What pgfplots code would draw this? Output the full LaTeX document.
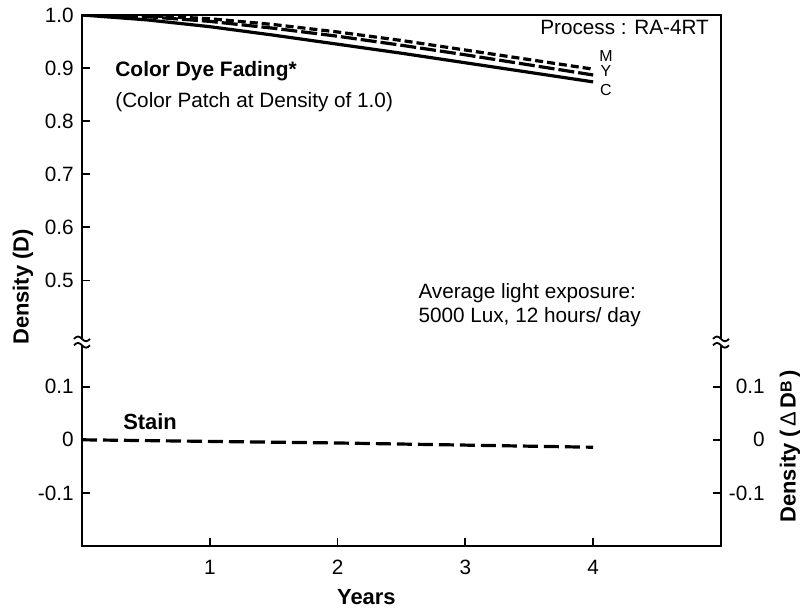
\documentclass[border=0pt]{standalone}
\usepackage{fontspec}
\setmainfont{Liberation Sans}
\usepackage{pgfplots}
\usepackage{pgfplotstable}
\pgfplotsset{compat=1.18}

\pgfplotstableread{
x d
0 1.000
0.5 0.991
1 0.978
1.5 0.962
2 0.945
2.5 0.928
3 0.910
3.5 0.892
4 0.874
}\cdata
\pgfplotstableread{
x d
0 1.000
0.5 0.997
1 0.988
1.5 0.975
2 0.960
2.5 0.943
3 0.925
3.5 0.906
4 0.887
}\ydata
\pgfplotstableread{
x d
0 1.000
0.5 0.999
1 0.993
1.5 0.982
2 0.968
2.5 0.952
3 0.934
3.5 0.916
4 0.898
}\mdata
\pgfplotstableread{
x d
0 0.000
1 -0.003
2 -0.006
3 -0.010
4 -0.014
}\staindata

\begin{document}
\begin{tikzpicture}
\pgfplotsset{
  common/.style={
    scale only axis, width=319.5bp, height=265.5bp,
    at={(41bp,31.5bp)}, anchor=south west,
    xmin=0, xmax=5, ymin=0, ymax=1,
    tick align=inside, major tick length=4bp,
    every tick/.style={black, line width=0.9bp},
    axis line style={line width=0.9bp},
    /pgf/number format/assume math mode=true,
    ticklabel style={font=\fontsize{10.4}{12}\selectfont, inner sep=0pt},
  }
}
\begin{axis}[common,
  axis lines=box,
  xtick pos=bottom, ytick pos=left,
  xtick={1,2,3,4}, xticklabels={1,2,3,4},
  xticklabel style={anchor=center, yshift=-10.5bp},
  ytick={0.1,0.2,0.3,0.5,0.6,0.7,0.8,0.9,1.0},
  yticklabels={-0.1,0,0.1,0.5,0.6,0.7,0.8,0.9,1.0},
  yticklabel style={anchor=east, xshift=-4bp},
  xlabel={Years},
  xlabel style={font=\fontsize{11}{13}\selectfont\bfseries, at={([yshift=-25.5bp]rel axis cs:0.445,0)}, anchor=center},
  ylabel={Density (D)},
  ylabel style={font=\fontsize{11}{13}\selectfont\bfseries, at={([xshift=-29.5bp]rel axis cs:0,0.488)}, anchor=center},
]
\addplot[black, line width=1.6bp] table[x=x, y=d] {\cdata};
\addplot[black, line width=1.6bp, dash pattern=on 8bp off 2bp] table[x=x, y=d] {\ydata};
\addplot[black, line width=1.6bp, dash pattern=on 4bp off 2bp] table[x=x, y=d] {\mdata};
\addplot[black, line width=1.6bp, dash pattern=on 7.5bp off 3bp] table[x=x, y expr=\thisrow{d}+0.2] {\staindata};

\node[anchor=east, font=\fontsize{10.4}{12}\selectfont] at (axis cs:4.96,0.977) {Process : RA-4RT};
\node[font=\fontsize{8}{9}\selectfont, inner sep=0pt] at (axis cs:4.10,0.922) {M};
\node[font=\fontsize{8}{9}\selectfont, inner sep=0pt] at (axis cs:4.10,0.895) {Y};
\node[font=\fontsize{8}{9}\selectfont, inner sep=0pt] at (axis cs:4.10,0.858) {C};
\node[anchor=west, inner sep=0pt, font=\fontsize{10.5}{12}\selectfont\bfseries] at (axis cs:0.258,0.895) {Color Dye Fading*};
\node[anchor=west, inner sep=0pt, font=\fontsize{10.4}{12}\selectfont] at (axis cs:0.258,0.836) {(Color Patch at Density of 1.0)};
\node[anchor=west, inner sep=0pt, align=left, font=\fontsize{10.4}{12}\selectfont] at (axis cs:2.63,0.454) {Average light exposure:\\5000 Lux, 12 hours/ day};
\node[anchor=west, inner sep=0pt, font=\fontsize{11}{13}\selectfont\bfseries] at (axis cs:0.32,0.234) {Stain};
\coordinate (brL) at (axis cs:0,0.384);
\coordinate (brR) at (axis cs:5,0.384);
\end{axis}
\begin{axis}[common,
  axis x line=none, axis y line*=right,
  ytick={0.1,0.2,0.3}, yticklabels={-0.1,0,0.1},
  yticklabel style={anchor=east, xshift=22bp},
  ylabel={Density (\,{\mdseries Δ}\,D\raisebox{0.35ex}{\fontsize{8}{9}\selectfont B}\,)},
  ylabel style={font=\fontsize{11}{13}\selectfont\bfseries, at={([xshift=34.5bp]rel axis cs:1,0.188)}, anchor=center},
]
\end{axis}
\foreach \p in {brL,brR}{
  \fill[white] ([xshift=-3bp,yshift=-1.6bp]\p) rectangle ([xshift=3bp,yshift=1.6bp]\p);
  \draw[black, line width=0.9bp] ([xshift=-4bp,yshift=1.6bp]\p) sin ([xshift=-2bp,yshift=2.8bp]\p) cos ([xshift=0bp,yshift=1.6bp]\p) sin ([xshift=2bp,yshift=0.4bp]\p) cos ([xshift=4bp,yshift=1.6bp]\p);
  \draw[black, line width=0.9bp] ([xshift=-4bp,yshift=-1.6bp]\p) sin ([xshift=-2bp,yshift=-0.4bp]\p) cos ([xshift=0bp,yshift=-1.6bp]\p) sin ([xshift=2bp,yshift=-2.8bp]\p) cos ([xshift=4bp,yshift=-1.6bp]\p);
}
\pgfresetboundingbox
\useasboundingbox (0,0) rectangle (400bp,304.5bp);
\end{tikzpicture}
\end{document}
